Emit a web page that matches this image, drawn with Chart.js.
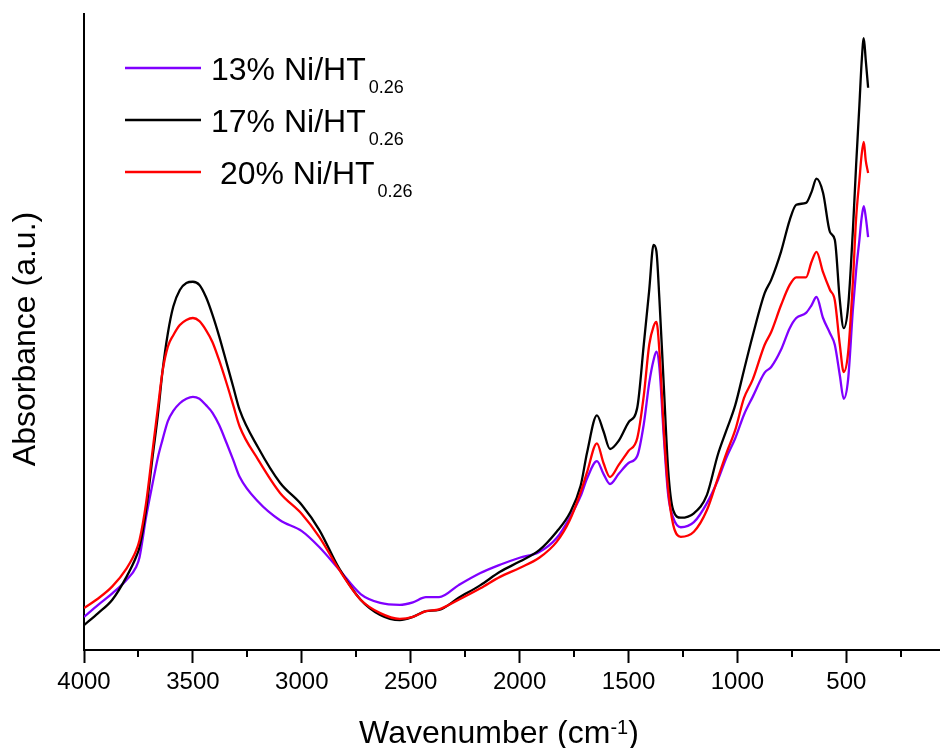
<!DOCTYPE html>
<html>
<head>
<meta charset="utf-8">
<title>FTIR spectra Ni/HT</title>
<script src="https://cdn.jsdelivr.net/npm/chart.js@4.4.1/dist/chart.umd.min.js"></script>
<style>
  html, body { margin: 0; padding: 0; background: #fff; }
  canvas { display: block; }
</style>
</head>
<body>
<canvas id="ftirChart" width="940" height="748"></canvas>
<script>
// wavenumber grid (cm-1), shared by all three spectra
const wavenumbers = [4000, 3935, 3870, 3805, 3760, 3745, 3715, 3685, 3660, 3640,
  3615, 3590, 3560, 3530, 3500, 3470, 3440, 3410, 3380, 3345,
  3315, 3285, 3200, 3100, 3000, 2920, 2830, 2730, 2640, 2550,
  2490, 2430, 2370, 2280, 2180, 2090, 2000, 1910, 1830, 1770,
  1720, 1690, 1645, 1615, 1585, 1545, 1500, 1460, 1430, 1405,
  1385, 1372, 1358, 1338, 1318, 1295, 1260, 1200, 1140, 1090,
  1050, 1010, 970, 930, 875, 845, 800, 760, 730, 685,
  660, 637, 607, 575, 553, 530, 512, 492, 470, 455,
  440, 430, 420, 411, 400];

// absorbance (arbitrary units)
const ni13 = [5.2, 7.1, 8.9, 11.0, 13.1, 14.6, 20.9, 26.2, 30.4, 33.0,
  36.0, 37.6, 38.8, 39.5, 39.8, 39.5, 38.5, 37.3, 35.4, 32.5,
  29.9, 27.2, 23.3, 20.4, 18.7, 16.2, 12.7, 8.8, 7.4, 7.1,
  7.5, 8.3, 8.3, 10.2, 12.1, 13.4, 14.5, 15.4, 17.6, 20.8,
  24.2, 27.0, 29.7, 27.7, 26.1, 27.7, 29.4, 30.5, 35.5, 42.0,
  45.6, 46.9, 44.3, 33.5, 24.4, 20.8, 19.3, 20.1, 23.1, 26.7,
  30.3, 33.3, 37.0, 39.8, 43.6, 44.5, 47.2, 50.6, 52.2, 53.0,
  54.2, 55.5, 52.2, 49.8, 48.0, 43.2, 39.5, 42.5, 53.5, 59.7,
  64.5, 67.9, 69.8, 68.1, 64.9];

const ni17 = [3.9, 5.8, 7.9, 11.5, 14.7, 16.2, 22.0, 30.4, 37.2, 43.7,
  49.8, 54.0, 56.6, 57.7, 57.9, 57.4, 55.5, 52.7, 49.4, 45.1,
  41.4, 37.7, 31.8, 26.3, 22.8, 18.9, 12.9, 7.9, 5.5, 4.7,
  5.2, 6.1, 6.3, 8.2, 10.2, 12.3, 13.9, 15.7, 18.6, 21.5,
  25.8, 31.1, 36.9, 34.4, 31.6, 32.9, 35.8, 38.1, 48.0, 56.6,
  63.7, 62.7, 55.0, 41.5, 28.3, 22.0, 20.8, 21.5, 24.4, 30.7,
  34.6, 38.5, 44.0, 49.4, 56.1, 58.2, 62.6, 67.6, 70.0, 70.3,
  72.0, 74.1, 71.9, 65.7, 64.5, 55.0, 50.6, 53.9, 66.0, 76.3,
  85.7, 92.3, 96.2, 92.8, 88.4];

const ni20 = [6.6, 8.1, 10.0, 12.8, 15.7, 17.3, 23.1, 31.4, 38.3, 43.7,
  47.7, 49.5, 51.1, 51.9, 52.2, 51.7, 50.3, 48.4, 45.6, 41.9,
  38.5, 35.1, 29.9, 24.7, 21.4, 17.8, 12.7, 7.9, 5.8, 4.9,
  5.2, 6.1, 6.4, 7.9, 9.7, 11.5, 12.9, 14.5, 17.0, 20.4,
  24.8, 28.0, 32.5, 29.4, 27.2, 29.1, 31.3, 33.3, 40.0, 48.0,
  50.9, 51.6, 46.9, 34.6, 25.2, 19.7, 17.8, 18.6, 22.0, 27.0,
  31.0, 34.6, 39.6, 42.5, 48.0, 50.0, 54.2, 57.4, 58.6, 58.6,
  61.0, 62.6, 59.4, 56.6, 55.0, 48.0, 43.7, 46.7, 57.9, 67.9,
  73.9, 77.8, 79.9, 77.0, 75.0];

const seriesNames = ['13% Ni/HT', '17% Ni/HT', ' 20% Ni/HT'];
const seriesSub = '0.26';
const seriesColors = ['#8000ff', '#000000', '#ff0000'];
const majorTicks = [4000, 3500, 3000, 2500, 2000, 1500, 1000, 500];
const minorTicks = [3750, 3250, 2750, 2250, 1750, 1250, 750, 250];

const FONT = "'Liberation Sans', Arial, sans-serif";
Chart.defaults.font.family = FONT;
Chart.defaults.color = '#000';

function toPoints(ys) {
  return wavenumbers.map((x, i) => ({ x: x, y: ys[i] }));
}

// white page, short minor ticks, legend with subscripts, axis titles
const decorations = {
  id: 'decorations',
  beforeDraw(chart) {
    const ctx = chart.ctx;
    ctx.save();
    ctx.fillStyle = '#fff';
    ctx.fillRect(0, 0, chart.width, chart.height);
    ctx.restore();
  },
  afterDraw(chart) {
    const ctx = chart.ctx;
    const area = chart.chartArea;
    const xs = chart.scales.x;
    ctx.save();

    // minor ticks
    ctx.strokeStyle = '#000';
    ctx.lineWidth = 2;
    minorTicks.forEach(v => {
      const px = Math.round(xs.getPixelForValue(v));
      if (px < area.left || px > area.right) return;
      ctx.beginPath();
      ctx.moveTo(px, area.bottom);
      ctx.lineTo(px, area.bottom + 7);
      ctx.stroke();
    });

    // legend
    const lx = 125, ly = 68, step = 52;
    seriesNames.forEach((name, i) => {
      const y = ly + i * step;
      ctx.strokeStyle = seriesColors[i];
      ctx.lineWidth = 2.3;
      ctx.beginPath();
      ctx.moveTo(lx, y);
      ctx.lineTo(lx + 76, y);
      ctx.stroke();
      ctx.fillStyle = '#000';
      ctx.textBaseline = 'alphabetic';
      ctx.textAlign = 'left';
      ctx.font = '32px ' + FONT;
      ctx.fillText(name, lx + 86, y + 12);
      const w = ctx.measureText(name).width;
      ctx.font = '18px ' + FONT;
      ctx.fillText(seriesSub, lx + 86 + w + 3, y + 24.5);
    });

    // x axis title
    const main = 'Wavenumber (cm', sup = '-1', close = ')';
    ctx.font = '32px ' + FONT;
    const wMain = ctx.measureText(main).width;
    const wClose = ctx.measureText(close).width;
    ctx.font = '20px ' + FONT;
    const wSup = ctx.measureText(sup).width;
    const cx = (area.left + area.right) / 2 - 13;
    let x = cx - (wMain + wSup + wClose) / 2;
    const base = 743;
    ctx.font = '32px ' + FONT;
    ctx.fillText(main, x, base);
    x += wMain;
    ctx.font = '20px ' + FONT;
    ctx.fillText(sup, x, base - 9);
    x += wSup;
    ctx.font = '32px ' + FONT;
    ctx.fillText(close, x, base);

    // y axis title
    ctx.translate(26, 339);
    ctx.rotate(-Math.PI / 2);
    ctx.textAlign = 'center';
    ctx.textBaseline = 'middle';
    ctx.font = '32px ' + FONT;
    ctx.fillText('Absorbance (a.u.)', 0, 0);

    ctx.restore();
  }
};

new Chart(document.getElementById('ftirChart'), {
  type: 'line',
  data: {
    datasets: [
      { label: seriesNames[0], data: toPoints(ni13), borderColor: seriesColors[0], order: 3 },
      { label: seriesNames[1], data: toPoints(ni17), borderColor: seriesColors[1], order: 2 },
      { label: seriesNames[2], data: toPoints(ni20), borderColor: seriesColors[2], order: 1 }
    ]
  },
  options: {
    responsive: false,
    animation: false,
    events: [],
    layout: { padding: { top: 14, right: 0, bottom: 0, left: 0 } },
    elements: {
      line: { borderWidth: 2.3, cubicInterpolationMode: 'monotone', fill: false },
      point: { radius: 0 }
    },
    plugins: {
      legend: { display: false },
      tooltip: { enabled: false }
    },
    scales: {
      x: {
        type: 'linear',
        reverse: true,
        min: 70,
        max: 4000,
        afterBuildTicks: s => { s.ticks = majorTicks.map(v => ({ value: v })); },
        afterFit: s => { s.height = 98; },
        ticks: {
          callback: v => String(v),
          font: { size: 24 },
          color: '#000',
          padding: 5,
          maxRotation: 0,
          autoSkip: false
        },
        grid: { drawOnChartArea: false, drawTicks: true, tickLength: 13, tickWidth: 2, tickColor: '#000' },
        border: { display: true, color: '#000', width: 2 }
      },
      y: {
        min: 0,
        max: 100,
        afterFit: s => { s.width = 84; },
        ticks: { display: false },
        grid: { display: false },
        border: { display: true, color: '#000', width: 2 },
        title: { display: false }
      }
    }
  },
  plugins: [decorations]
});
</script>
</body>
</html>
